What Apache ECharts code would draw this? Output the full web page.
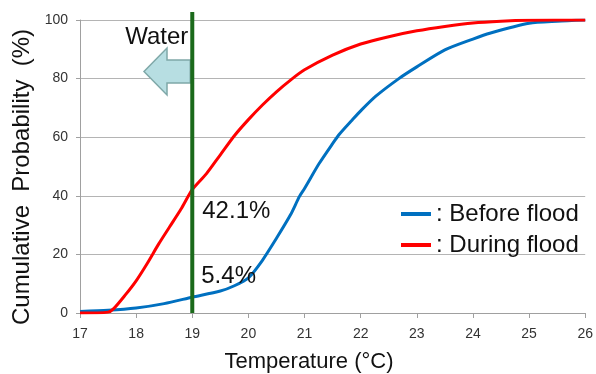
<!DOCTYPE html>
<html>
<head>
<meta charset="utf-8">
<script src="https://cdn.jsdelivr.net/npm/echarts@6/dist/echarts.min.js"></script>
<style>html,body{margin:0;padding:0;background:#fff}#c{width:596px;height:374px}</style>
</head>
<body>
<div id="c"></div>
<script>
const xTicks = [17, 18, 19, 20, 21, 22, 23, 24, 25, 26];
const yTicks = [0, 20, 40, 60, 80, 100];
const beforeT = [17.0, 17.5, 18.0, 18.5, 19.0, 19.5, 19.75, 20.0, 20.25, 20.5, 20.75, 20.91, 21.0, 21.26, 21.5, 21.62, 21.85, 22.0, 22.27, 22.68, 23.0, 23.5, 24.0, 24.3, 25.0, 25.5, 26.0];
const beforeP = [0.5, 0.9, 1.7, 3.2, 5.4, 7.5, 9.3, 12, 18, 25.5, 33.5, 39.8, 42.5, 51, 57.8, 61, 65.9, 69, 74, 80, 84, 89.8, 93.5, 95.5, 98.9, 99.6, 100];
const duringT = [17.0, 17.5, 17.6, 17.8, 18.0, 18.2, 18.4, 18.6, 18.8, 19.0, 19.25, 19.5, 19.75, 20.0, 20.25, 20.5, 20.75, 21.0, 21.5, 22.0, 22.5, 23.0, 23.5, 24.0, 24.5, 25.0, 26.0];
const duringP = [0, 0.3, 1.5, 6, 11, 17, 23.5, 29.5, 35.5, 42.1, 47.5, 54, 60.5, 66, 71, 75.5, 79.5, 83, 88, 91.8, 94.3, 96.3, 97.8, 99, 99.6, 99.9, 100];
const seriesNames = ['Before flood', 'During flood'];
const markT = 19;
const markLabels = ['42.1%', '5.4%'];
const markValues = [42.1, 5.4];

const chart = echarts.init(document.getElementById('c'));
const font = 'Liberation Sans, Arial, sans-serif';
chart.setOption({
  animation: false,
  grid: { left: 80, right: 9, top: 20, bottom: 61 },
  xAxis: {
    type: 'value', min: 17, max: 26, interval: 1,
    axisLine: { show: true, lineStyle: { color: '#a0a0a0' } },
    axisTick: { show: true, length: 5, lineStyle: { color: '#a0a0a0' } },
    axisLabel: { fontSize: 14, color: '#333', fontFamily: font, margin: 14 },
    splitLine: { show: false }
  },
  yAxis: {
    type: 'value', min: 0, max: 100, interval: 20,
    axisLine: { show: true, lineStyle: { color: '#a0a0a0' } },
    axisTick: { show: true, length: 4, lineStyle: { color: '#a0a0a0' } },
    axisLabel: { fontSize: 14, color: '#333', fontFamily: font, margin: 12 },
    splitLine: { show: true, lineStyle: { color: '#b4b4b4', width: 1 } }
  },
  legend: {
    orient: 'vertical', left: 396, top: 196, itemGap: 5,
    icon: 'rect', itemWidth: 30, itemHeight: 4,
    data: seriesNames,
    formatter: n => ': ' + n,
    textStyle: { fontSize: 24, color: '#111', fontFamily: font, lineHeight: 26 }
  },
  series: [
    { name: seriesNames[0], type: 'line', showSymbol: false, smooth: 0.25,
      data: beforeT.map((t, i) => [t, beforeP[i]]),
      lineStyle: { color: '#0070c0', width: 3 }, itemStyle: { color: '#0070c0' }, z: 3 },
    { name: seriesNames[1], type: 'line', showSymbol: false, smooth: 0.25,
      data: duringT.map((t, i) => [t, duringP[i]]),
      lineStyle: { color: '#ff0000', width: 3 }, itemStyle: { color: '#ff0000' }, z: 4 }
  ]
});

const p0 = chart.convertToPixel({ gridIndex: 0 }, [markT, 0]);
const p100 = chart.convertToPixel({ gridIndex: 0 }, [markT, 100]);
const gx = p0[0];
const arrowR = gx - 2, shaftTop = 60, shaftBot = 83, headX = 167, tipX = 144, headTop = 48, headBot = 95, midY = 71.5;
chart.setOption({
  graphic: [
    { type: 'polygon', z: 10, shape: { points: [[arrowR, shaftTop], [headX, shaftTop], [headX, headTop], [tipX, midY], [headX, headBot], [headX, shaftBot], [arrowR, shaftBot]] },
      style: { fill: '#b7dee2', stroke: '#7fa8a8', lineWidth: 1.5 } },
    { type: 'line', z: 11, shape: { x1: gx, y1: p100[1] - 8, x2: gx, y2: p0[1] },
      style: { stroke: '#1b6a1b', lineWidth: 4 } },
    { type: 'text', z: 12, x: gx - 4, y: 37, style: { text: 'Water', fontSize: 24, fontFamily: font, fill: '#111', align: 'right', verticalAlign: 'middle' } },
    { type: 'text', z: 12, x: gx + 10, y: chart.convertToPixel({ gridIndex: 0 }, [markT, markValues[0]])[1] + 22,
      style: { text: markLabels[0], fontSize: 24, fontFamily: font, fill: '#111', align: 'left', verticalAlign: 'middle' } },
    { type: 'text', z: 12, x: gx + 9, y: chart.convertToPixel({ gridIndex: 0 }, [markT, markValues[1]])[1] - 21,
      style: { text: markLabels[1], fontSize: 24, fontFamily: font, fill: '#111', align: 'left', verticalAlign: 'middle' } },
    { type: 'text', z: 12, x: 309, y: 362, style: { text: 'Temperature (°C)', fontSize: 22, fontFamily: font, fill: '#111', align: 'center', verticalAlign: 'middle' } },
    { type: 'text', z: 12, x: 22, y: 177, rotation: Math.PI / 2,
      style: { text: 'Cumulative  Probability  (%)', fontSize: 24, fontFamily: font, fill: '#111', align: 'center', verticalAlign: 'middle' } }
  ]
});
</script>
</body>
</html>
